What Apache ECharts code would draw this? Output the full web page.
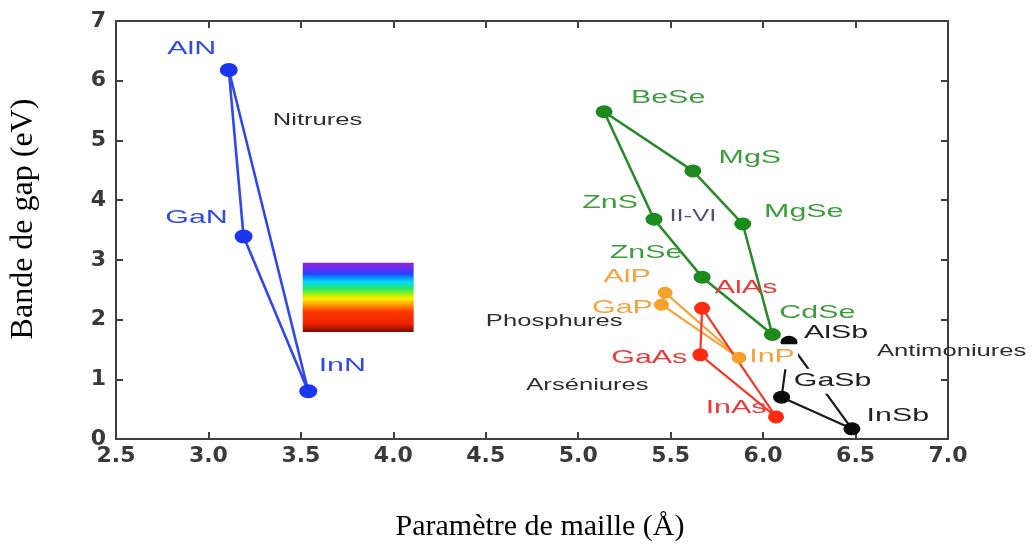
<!DOCTYPE html>
<html>
<head>
<meta charset="utf-8">
<title>Bande de gap vs paramètre de maille</title>
<script src="https://cdn.jsdelivr.net/npm/echarts@6/dist/echarts.min.js"></script>
<style>
  html, body { margin: 0; padding: 0; background: #ffffff; }
  #chart { width: 1035px; height: 551px; }
</style>
</head>
<body>
<div id="chart"></div>
<script>
// ---- Data: lattice parameter (Å) and band gap (eV) per compound ----
const nitrideNames   = ['AlN', 'GaN', 'InN'];
const nitrideLattice = [3.11, 3.19, 3.54];
const nitrideGap     = [6.18, 3.39, 0.80];
const nitridePath    = ['AlN', 'GaN', 'InN', 'AlN'];

const iivNames   = ['BeSe', 'MgS', 'MgSe', 'ZnS', 'ZnSe', 'CdSe'];
const iivLattice = [5.14, 5.62, 5.89, 5.41, 5.67, 6.05];
const iivGap     = [5.48, 4.49, 3.60, 3.68, 2.71, 1.75];
const iivPath    = ['BeSe', 'MgS', 'MgSe', 'CdSe', 'ZnSe', 'ZnS', 'BeSe'];

const phosphideNames   = ['AlP', 'GaP', 'InP'];
const phosphideLattice = [5.47, 5.45, 5.87];
const phosphideGap     = [2.45, 2.25, 1.36];
const phosphidePath    = ['AlP', 'InP', 'GaP', 'AlP'];

const arsenideNames   = ['AlAs', 'GaAs', 'InAs'];
const arsenideLattice = [5.67, 5.66, 6.07];
const arsenideGap     = [2.19, 1.41, 0.37];
const arsenidePath    = ['AlAs', 'InAs', 'GaAs', 'AlAs'];

const antimonideNames   = ['AlSb', 'GaSb', 'InSb'];
const antimonideLattice = [6.14, 6.10, 6.48];
const antimonideGap     = [1.62, 0.70, 0.17];
const antimonidePath    = ['AlSb', 'InSb', 'GaSb', 'AlSb'];

// Family captions, anchored in data coordinates
const groupNoteText    = ['Nitrures', 'II-VI', 'Phosphures', 'Arséniures', 'Antimoniures'];
const groupNoteLattice = [3.59, 5.62, 4.87, 5.05, 7.02];
const groupNoteGap     = [5.33, 3.72, 1.96, 0.89, 1.47];

// Visible-spectrum band: [lattice, gap] corners
const spectrumBand = [[3.51, 2.95], [4.11, 1.79]];

// Axis ranges and tick spacing
const xRange = [2.5, 7.0], xStep = 0.5;
const yRange = [0, 7], yStep = 1;

// ---- Styling ----
const families = [
  { names: nitrideNames, lattice: nitrideLattice, gap: nitrideGap, path: nitridePath,
    dot: '#1c36f0', line: '#3047ea', text: '#2f4ae6', size: [18, 14], width: 2.6 },
  { names: iivNames, lattice: iivLattice, gap: iivGap, path: iivPath,
    dot: '#1d8a1d', line: '#2b8a2b', text: '#3d9d3d', size: [17, 13], width: 2.6 },
  { names: phosphideNames, lattice: phosphideLattice, gap: phosphideGap, path: phosphidePath,
    dot: '#f7a02a', line: '#f5a23c', text: '#f1a243', size: [15, 12], width: 2.2 },
  { names: arsenideNames, lattice: arsenideLattice, gap: arsenideGap, path: arsenidePath,
    dot: '#ff2a12', line: '#ef3a2a', text: '#ea3a3a', size: [16, 13], width: 2.2 },
  { names: antimonideNames, lattice: antimonideLattice, gap: antimonideGap, path: antimonidePath,
    dot: '#0b0b0b', line: '#1a1a1a', text: '#222222', size: [17, 13], width: 2.2 }
];

// Pixel offsets of each compound label from its dot (third flag: white backing)
const labelPlacement = {
  AlN: [-37, -21], GaN: [-47, -19], InN: [34, -25],
  BeSe: [64, -14], MgS: [57, -13], MgSe: [61, -12], ZnS: [-44, -16], ZnSe: [-56, -24], CdSe: [45, -22],
  AlP: [-38, -16], GaP: [-39, 3], InP: [33, -1, true],
  AlAs: [44, -20], GaAs: [-51, 3], InAs: [-40, -9],
  AlSb: [47, -9], GaSb: [51, -16, true], InSb: [46, -13]
};
const TEXT_STRETCH = 1.6;

// ---- Series ----
const series = [];
const labelData = [];

families.forEach((f, k) => {
  const lookup = n => {
    const i = f.names.indexOf(n);
    return [f.lattice[i], f.gap[i]];
  };
  const lineSeries = {
    type: 'line',
    data: f.path.map(lookup),
    symbol: 'none',
    lineStyle: { color: f.line, width: f.width },
    z: 2,
    silent: true
  };
  if (k === 0) {
    lineSeries.markArea = {
      silent: true,
      itemStyle: {
        opacity: 1,
        color: new echarts.graphic.LinearGradient(0, 0, 0, 1, [
          { offset: 0.00, color: '#8e2ad6' },
          { offset: 0.08, color: '#6a2cf0' },
          { offset: 0.16, color: '#1f48ff' },
          { offset: 0.27, color: '#00d8ff' },
          { offset: 0.37, color: '#22e86a' },
          { offset: 0.45, color: '#9cee10' },
          { offset: 0.52, color: '#ffee00' },
          { offset: 0.60, color: '#ffa000' },
          { offset: 0.70, color: '#ff3a00' },
          { offset: 0.88, color: '#ee2200' },
          { offset: 1.00, color: '#7a0a05' }
        ])
      },
      data: [[{ coord: spectrumBand[0] }, { coord: spectrumBand[1] }]]
    };
  }
  series.push(lineSeries);
  series.push({
    type: 'scatter',
    data: f.names.map((n, i) => ({ name: n, value: [f.lattice[i], f.gap[i]] })),
    symbol: 'circle',
    symbolSize: f.size,
    itemStyle: { color: f.dot, opacity: 1 },
    z: 3,
    silent: true
  });
  f.names.forEach((n, i) => labelData.push([f.lattice[i], f.gap[i], n, k]));
});

// Compound labels
series.push({
  type: 'custom',
  data: labelData,
  encode: { x: 0, y: 1 },
  z: 5,
  silent: true,
  clip: false,
  renderItem: (params, api) => {
    const item = labelData[params.dataIndex];
    const p = api.coord([item[0], item[1]]);
    const place = labelPlacement[item[2]];
    const style = {
      text: item[2],
      fill: families[item[3]].text,
      fontFamily: 'Liberation Sans',
      fontSize: 19,
      align: 'center',
      verticalAlign: 'middle'
    };
    if (place[2]) {
      style.backgroundColor = '#ffffff';
      style.padding = [3, 2, 3, 2];
    }
    return {
      type: 'text',
      x: p[0] + place[0],
      y: p[1] + place[1],
      scaleX: TEXT_STRETCH,
      style: style
    };
  }
});

// Family captions
const noteData = groupNoteText.map((t, i) => [groupNoteLattice[i], groupNoteGap[i], t]);
series.push({
  type: 'custom',
  data: noteData,
  encode: { x: 0, y: 1 },
  z: 5,
  silent: true,
  clip: false,
  renderItem: (params, api) => {
    const item = noteData[params.dataIndex];
    const p = api.coord([item[0], item[1]]);
    return {
      type: 'text',
      x: p[0],
      y: p[1],
      scaleX: TEXT_STRETCH,
      style: {
        text: item[2],
        fill: item[2] === 'II-VI' ? '#56506c' : '#2e2e2e',
        fontFamily: 'Liberation Sans',
        fontSize: 16,
        align: 'center',
        verticalAlign: 'middle'
      }
    };
  }
});

// ---- Axes ----
const axisColor = '#404040';
const frameAxis = (extra) => Object.assign({
  type: 'value',
  axisLine: { show: true, onZero: false, lineStyle: { color: axisColor, width: 2 } },
  axisTick: { show: true, inside: true, length: 7, lineStyle: { color: axisColor, width: 2 } },
  splitLine: { show: false }
}, extra);

const tickFont = { color: '#3a3a3a', fontFamily: 'DejaVu Sans', fontWeight: 'bold', fontSize: 22 };

const chart = echarts.init(document.getElementById('chart'), null, { renderer: 'canvas' });
chart.setOption({
  backgroundColor: '#ffffff',
  animation: false,
  grid: { left: 116, right: 87, top: 21, bottom: 112, containLabel: false },
  xAxis: [
    frameAxis({
      position: 'bottom', min: xRange[0], max: xRange[1], interval: xStep,
      axisLabel: Object.assign({ formatter: v => v.toFixed(1), margin: 6 }, tickFont),
      name: 'Paramètre de maille (Å)', nameLocation: 'middle', nameGap: 73,
      nameTextStyle: { fontFamily: 'Liberation Serif', fontSize: 30, color: '#000', padding: [0, 0, 0, 16] }
    }),
    frameAxis({
      position: 'top', min: xRange[0], max: xRange[1], interval: xStep,
      axisLabel: { show: false }
    })
  ],
  yAxis: [
    frameAxis({
      position: 'left', min: yRange[0], max: yRange[1], interval: yStep,
      axisLabel: Object.assign({ formatter: v => String(v), margin: 10 }, tickFont),
      name: 'Bande de gap (eV)', nameLocation: 'middle', nameGap: 76,
      nameTextStyle: { fontFamily: 'Liberation Serif', fontSize: 32, color: '#000', padding: [0, 0, 0, 22] }
    }),
    frameAxis({
      position: 'right', min: yRange[0], max: yRange[1], interval: yStep,
      axisLabel: { show: false }
    })
  ],
  series: series
});
</script>
</body>
</html>
